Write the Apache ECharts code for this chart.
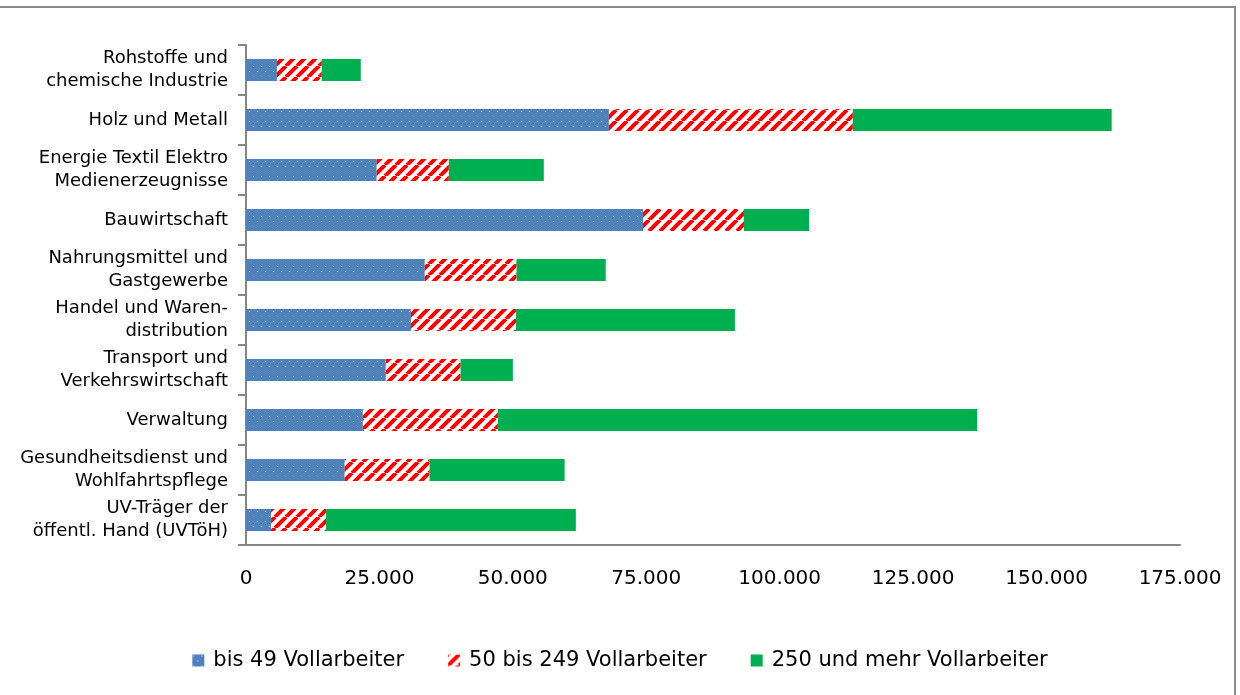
<!DOCTYPE html>
<html><head><meta charset="utf-8">
<script src="https://cdn.jsdelivr.net/npm/echarts@6/dist/echarts.min.js"></script>
<style>html,body{margin:0;padding:0;background:#fff}#c{width:1240px;height:695px}</style>
</head><body><div id="c"></div>
<script>
const categories = ["Rohstoffe und\nchemische Industrie","Holz und Metall","Energie Textil Elektro\nMedienerzeugnisse","Bauwirtschaft","Nahrungsmittel und\nGastgewerbe","Handel und Waren-\ndistribution","Transport und\nVerkehrswirtschaft","Verwaltung","Gesundheitsdienst und\nWohlfahrtspflege","UV-Träger der\nöffentl. Hand (UVTöH)"];
const small = [5800, 68000, 24500, 74400, 33500, 30900, 26200, 21900, 18500, 4700];
const medium = [8400, 45700, 13500, 18900, 17200, 19700, 14000, 25300, 15900, 10300];
const large = [7300, 48500, 17800, 12200, 16700, 41000, 9800, 89800, 25300, 46800];
const seriesNames = ["bis 49 Vollarbeiter","50 bis 249 Vollarbeiter","250 und mehr Vollarbeiter"];

function dotPattern(){
  const c=document.createElement('canvas');c.width=8;c.height=10;const g=c.getContext('2d');
  g.fillStyle='#4F81BD';g.fillRect(0,0,8,10);
  g.fillStyle='rgba(255,255,255,0.9)';g.fillRect(1,1,1,1);g.fillRect(5,6,1,1);
  return c;
}
function stripePattern(){
  const s=11;const c=document.createElement('canvas');c.width=s;c.height=s;const g=c.getContext('2d');
  g.fillStyle='#fff';g.fillRect(0,0,s,s);
  g.strokeStyle='#FF0000';g.lineWidth=4;
  for(const o of [-s,0,s]){g.beginPath();g.moveTo(o,s);g.lineTo(o+s,0);g.stroke();}
  return c;
}
const chart=echarts.init(document.getElementById('c'));
const fontFam='"DejaVu Sans",sans-serif';
chart.setOption({
  animation:false,
  backgroundColor:'#fff',
  grid:{left:246,right:60,top:45,bottom:150,containLabel:false},
  xAxis:{type:'value',min:0,max:175000,interval:25000,
    axisLine:{show:true,lineStyle:{color:'#868686',width:2}},
    axisTick:{show:false},splitLine:{show:false},
    axisLabel:{color:'#000',fontSize:20,fontFamily:fontFam,margin:24,
      formatter:v=>v===0?'0':v.toLocaleString('de-DE')}},
  yAxis:{type:'category',data:categories,inverse:true,
    axisLine:{show:true,lineStyle:{color:'#868686',width:2}},
    axisTick:{show:true,length:8,lineStyle:{color:'#868686',width:2}},
    axisLabel:{color:'#000',fontSize:18,fontFamily:fontFam,margin:18,lineHeight:23,align:'right'}},
  legend:{bottom:19,left:'center',icon:'rect',itemWidth:12,itemHeight:12,itemGap:44,
    textStyle:{color:'#000',fontSize:21,fontFamily:fontFam,padding:[0,0,0,4]},
    data:seriesNames},
  graphic:[{type:'rect',shape:{x:-5,y:7,width:1240,height:700},style:{fill:'none',stroke:'#8a8a8a',lineWidth:2},silent:true}],
  series:[
    {name:seriesNames[0],type:'bar',stack:'s',data:small,barWidth:'44%',itemStyle:{color:{image:dotPattern(),repeat:'repeat'}}},
    {name:seriesNames[1],type:'bar',stack:'s',data:medium,barWidth:'44%',itemStyle:{color:{image:stripePattern(),repeat:'repeat'}}},
    {name:seriesNames[2],type:'bar',stack:'s',data:large,barWidth:'44%',itemStyle:{color:'#00B050'}}
  ]
});
</script></body></html>
